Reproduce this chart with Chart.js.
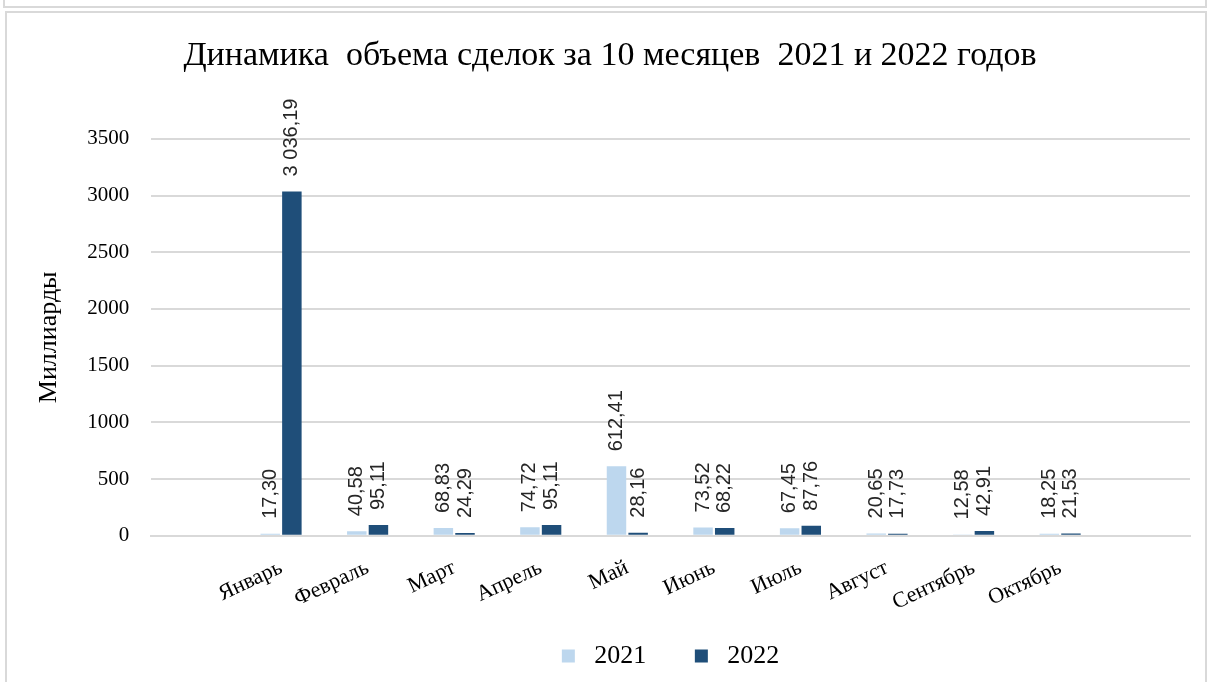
<!DOCTYPE html>
<html>
<head>
<meta charset="utf-8">
<script src="https://cdn.jsdelivr.net/npm/chart.js@4.4.0/dist/chart.umd.min.js"></script>
<style>
    body { margin: 0; background: #fff; width: 1208px; height: 682px; overflow: hidden; position: relative; }
    .top-box { position: absolute; left: 3px; top: -10px; width: 1200px; height: 14px; border: 2px solid #d9d9d9; }
    .frame { position: absolute; left: 5px; top: 11px; width: 1198px; height: 680px; border: 2px solid #d9d9d9; }
    #chartWrap { position: absolute; left: 0; top: 0; width: 1208px; height: 682px; }
</style>
</head>
<body>
<div class="top-box"></div>
<div class="frame"></div>
<div id="chartWrap"><canvas id="dealsChart" width="1208" height="682"></canvas></div>
<script>
// empty slots at both ends, as in the original layout
const months = ['', 'Январь', 'Февраль', 'Март', 'Апрель', 'Май', 'Июнь', 'Июль', 'Август', 'Сентябрь', 'Октябрь', ''];
const values2021 = [null, 17.30, 40.58, 68.83, 74.72, 612.41, 73.52, 67.45, 20.65, 12.58, 18.25, null];
const values2022 = [null, 3036.19, 95.11, 24.29, 95.11, 28.16, 68.22, 87.76, 17.73, 42.91, 21.53, null];
const yTicks = [0, 500, 1000, 1500, 2000, 2500, 3000, 3500];

function formatRu(v) {
    const parts = v.toFixed(2).split('.');
    const intPart = parts[0].replace(/\B(?=(\d{3})+(?!\d))/g, ' ');
    return intPart + ',' + parts[1];
}

// vertical value labels above each bar
const valueLabels = {
    id: 'valueLabels',
    afterDatasetsDraw(chart) {
        const ctx = chart.ctx;
        chart.data.datasets.forEach(function (ds, i) {
            const meta = chart.getDatasetMeta(i);
            meta.data.forEach(function (bar, j) {
                const v = ds.data[j];
                if (v === null) return;
                ctx.save();
                ctx.translate(bar.x, bar.y - 15);
                ctx.rotate(-Math.PI / 2);
                ctx.font = '20px "Liberation Sans"';
                ctx.fillStyle = '#262626';
                ctx.textAlign = 'left';
                ctx.textBaseline = 'middle';
                ctx.fillText(formatRu(v), 0, 0);
                ctx.restore();
            });
        });
    }
};

document.addEventListener('DOMContentLoaded', function () {
    const canvas = document.getElementById('dealsChart').getContext('2d');
    new Chart(canvas, {
        type: 'bar',
        data: {
            labels: months,
            datasets: [{
                label: '2021',
                data: values2021,
                backgroundColor: '#BDD7EE',
                categoryPercentage: 0.5,
                barPercentage: 0.9,
            }, {
                label: '2022',
                data: values2022,
                backgroundColor: '#1F4E79',
                categoryPercentage: 0.5,
                barPercentage: 0.9,
            }]
        },
        options: {
            responsive: false,
            animation: false,
            layout: {
                padding: { left: 30, right: 18, top: 36, bottom: 3 }
            },
            plugins: {
                title: {
                    display: true,
                    text: 'Динамика  объема сделок за 10 месяцев  2021 и 2022 годов',
                    color: '#000',
                    font: { family: '"Liberation Serif"', size: 34, weight: 'normal' },
                    padding: { top: 0, bottom: 62 }
                },
                legend: {
                    position: 'bottom',
                    fullSize: false,
                    labels: {
                        color: '#000',
                        font: { family: '"Liberation Serif"', size: 26 },
                        boxWidth: 13,
                        boxHeight: 13,
                        padding: 16,
                        // extra spaces widen the gaps like in the original legend
                        generateLabels: function (chart) {
                            return Chart.defaults.plugins.legend.labels.generateLabels(chart).map(function (item, i) {
                                item.text = ' ' + item.text + (i === 0 ? '     ' : '');
                                return item;
                            });
                        }
                    }
                },
                tooltip: { enabled: false }
            },
            scales: {
                x: {
                    grid: { display: false },
                    border: { color: '#d9d9d9', width: 2 },
                    ticks: {
                        color: '#000',
                        font: { family: '"Liberation Serif"', size: 22 },
                        minRotation: 25,
                        maxRotation: 25,
                        autoSkip: false,
                        padding: 11
                    }
                },
                y: {
                    min: 0,
                    max: 3500,
                    afterBuildTicks: function (axis) {
                        axis.ticks = yTicks.map(function (v) { return { value: v }; });
                    },
                    grid: { color: '#d9d9d9', lineWidth: 2, drawTicks: false },
                    border: { display: false },
                    ticks: {
                        color: '#000',
                        font: { family: '"Liberation Serif"', size: 21 },
                        padding: 22,
                        callback: function (value) { return String(value); }
                    },
                    title: {
                        display: true,
                        text: 'Миллиарды',
                        color: '#000',
                        font: { family: '"Liberation Serif"', size: 26 },
                        padding: { bottom: 0 }
                    }
                }
            }
        },
        plugins: [valueLabels]
    });
});
</script>
</body>
</html>
